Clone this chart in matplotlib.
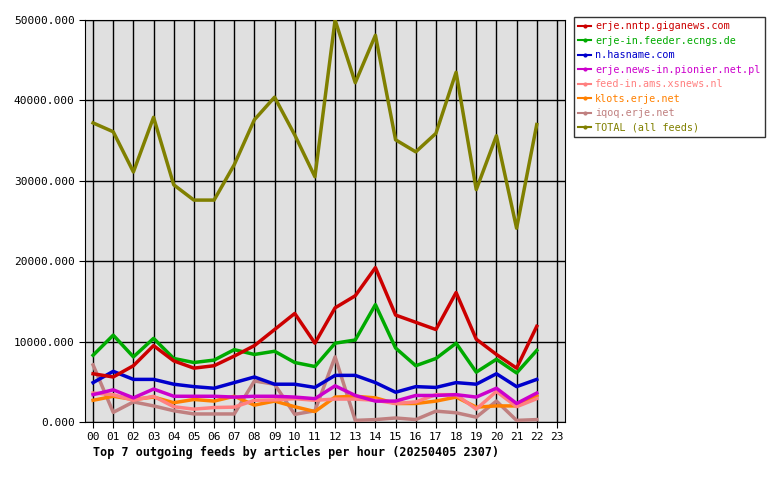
import matplotlib
matplotlib.use("Agg")
import matplotlib.pyplot as plt
from matplotlib.lines import Line2D

hours = [f"{h:02d}" for h in range(24)]
names = ["erje.nntp.giganews.com", "erje-in.feeder.ecngs.de", "n.hasname.com",
         "erje.news-in.pionier.net.pl", "feed-in.ams.xsnews.nl", "klots.erje.net",
         "iqoq.erje.net", "TOTAL (all feeds)"]
colors = ["#cc0000", "#00aa00", "#0000cc", "#cc00cc", "#ff8080", "#ff8000", "#c08080", "#808000"]
giganews = [6000,5600,7000,9500,7600,6700,7000,8200,9500,11500,13500,9800,14200,15700,19200,13300,12400,11500,16100,10300,8400,6700,11900]
ecngs = [8300,10800,8100,10400,7900,7400,7700,9000,8400,8800,7400,6900,9800,10200,14600,9200,7000,7900,9800,6200,7800,6100,8900]
hasname = [4900,6300,5300,5300,4700,4400,4200,4900,5600,4700,4700,4300,5800,5800,4900,3700,4400,4300,4900,4700,6000,4400,5300]
pionier = [3400,4000,3000,4100,3200,3200,3200,3100,3200,3200,3100,2900,4500,3300,2600,2600,3300,3300,3400,3100,4200,2300,3600]
xsnews = [3600,3400,2700,3200,1900,1600,1800,1850,2700,2750,2900,2700,2850,2850,2700,2300,2500,3400,3400,1600,3800,1900,2900]
klots = [2700,3200,2800,3100,2400,2800,2600,3200,2100,2600,1900,1300,3100,3200,3000,2300,2300,2600,3100,1850,2000,2000,3300]
iqoq = [7100,1200,2500,2000,1400,1000,1000,1000,5100,4700,950,1400,8100,200,300,500,300,1350,1150,600,2600,200,300]
total = [37200,36100,31100,37900,29500,27600,27600,32000,37600,40400,35700,30500,50000,42200,48100,35100,33600,35900,43500,28900,35600,24100,37000]
series = [giganews, ecngs, hasname, pionier, xsnews, klots, iqoq, total]

mono = "DejaVu Sans Mono"
fig = plt.figure(figsize=(7.8, 4.8), dpi=100)
ax = fig.add_axes([85/780, 1-422/480, 480/780, 402/480])
ax.set_facecolor("#e0e0e0")
for i in [7, 6, 5, 4, 3, 2, 1, 0]:
    ax.plot(range(len(series[i])), series[i], color=colors[i], lw=2.5, zorder=3)
ax.set_xlim(-0.4, 23.4)
ax.set_ylim(0, 50000)
ax.set_xticks(range(24))
ax.set_xticklabels(hours, fontfamily=mono, fontsize=8)
ax.set_yticks(range(0, 50001, 10000))
ax.set_yticklabels([f"{v}.000" for v in range(0, 50001, 10000)], fontfamily=mono, fontsize=8)
ax.grid(True, color="black", lw=1, zorder=1)
ax.set_axisbelow(True)
for s in ax.spines.values():
    s.set_color("black")
ax.tick_params(length=4, color="black")
fig.text(93/780, 1-452/480, "Top 7 outgoing feeds by articles per hour (20250405 2307)",
         fontfamily=mono, fontsize=8.5, fontweight="bold", va="center")
handles = [Line2D([0], [0], color=c, lw=1.5, marker="o", markersize=2) for c in colors]
leg = fig.legend(handles, names, loc="upper left", bbox_to_anchor=(574/780, 1-17/480),
                 prop={"family": mono, "size": 7.3}, frameon=True, fancybox=False,
                 handlelength=1.3, labelspacing=0.45, borderpad=0.4, handletextpad=0.4,
                 borderaxespad=0)
leg.get_frame().set_edgecolor("black")
for t, c in zip(leg.get_texts(), colors):
    t.set_color(c)
fig.savefig("out.png", dpi=100)
